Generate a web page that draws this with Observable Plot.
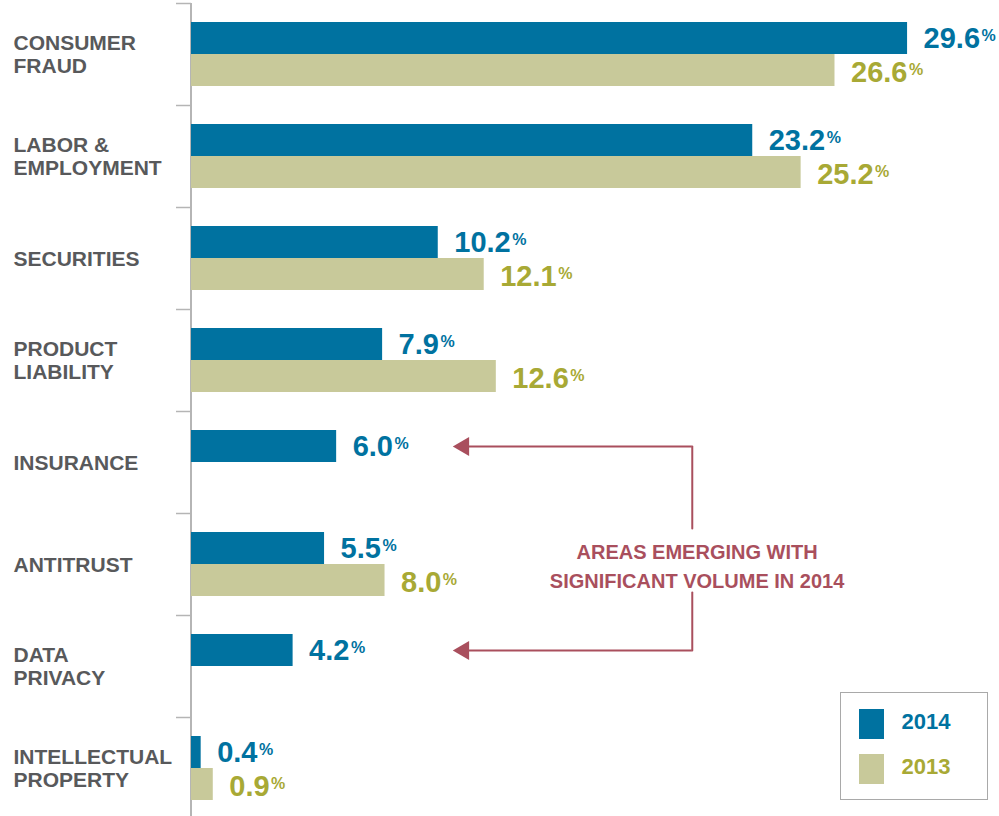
<!DOCTYPE html>
<html>
<head>
<meta charset="utf-8">
<script src="https://cdn.jsdelivr.net/npm/d3@7"></script>
<script src="https://cdn.jsdelivr.net/npm/@observablehq/plot@0.6"></script>
<style>
  html, body { margin: 0; padding: 0; background: #fff; overflow: hidden; }
  #wrap { position: relative; width: 999px; height: 816px; font-family: "Liberation Sans", Arial, Helvetica, sans-serif; }
  #legend { position: absolute; left: 840px; top: 692px; width: 148px; height: 108px; box-sizing: border-box;
            border: 1.5px solid #a9a9a9; background: #fff; }
  .sw { position: absolute; left: 17.5px; width: 25px; height: 30px; }
  .lt { position: absolute; left: 60.5px; height: 30px; line-height: 30px; font-size: 22px; font-weight: bold; }
</style>
</head>
<body>
<div id="wrap">
  <div id="chart"></div>
  <div id="legend"></div>
</div>
<script>
// ---- data ----
const categories = ["CONSUMER\nFRAUD", "LABOR &\nEMPLOYMENT", "SECURITIES", "PRODUCT\nLIABILITY",
                    "INSURANCE", "ANTITRUST", "DATA\nPRIVACY", "INTELLECTUAL\nPROPERTY"];
const values2014 = [29.6, 23.2, 10.2, 7.9, 6.0, 5.5, 4.2, 0.4];
const values2013 = [26.6, 25.2, 12.1, 12.6, null, 8.0, null, 0.9];
const years = ["2014", "2013"];
const annotText = "AREAS EMERGING WITH\nSIGNIFICANT VOLUME IN 2014";
const annotTargets = ["INSURANCE", "DATA\nPRIVACY"];
const annotAnchor = "ANTITRUST";

// ---- styling / layout ----
const C14 = "#0072a0", C13 = "#c8c99a", T13 = "#a8a935";
const LABEL = "#58595b", ANNOT = "#a94f5d", AXIS = "#b5b5b5";
const FONT = '"Liberation Sans", Arial, Helvetica, sans-serif';
const W = 999, H = 816, ML = 191, MR = 0;
const Y0 = 3, Y1 = 819;             // band range (last band runs just past the bottom edge)
const XMAX = 33.4;
const PX = (W - ML - MR) / XMAX;
const BW = (Y1 - Y0) / categories.length;
const BAR = 32;
const PAD = (BW - 2 * BAR) / 2;
const annotX = 20.9, elbowX = 20.7, tipX = 10.8;

const rows14 = categories.map((c, i) => ({category: c, value: values2014[i]}));
const rows13 = categories.map((c, i) => ({category: c, value: values2013[i]})).filter(d => d.value != null);

const plot = Plot.plot({
  width: W, height: H,
  marginLeft: ML, marginRight: MR, marginTop: 0, marginBottom: 0,
  style: {fontFamily: FONT, background: "white", overflow: "visible"},
  x: {domain: [0, XMAX], axis: null},
  y: {domain: categories, range: [Y0, Y1], padding: 0, axis: null},
  marks: [
    // axis line and group separators
    Plot.ruleX([0], {stroke: AXIS, strokeWidth: 2, dx: -0.5, insetTop: Y0}),
    Plot.ruleY(categories, {y: d => d, dy: -BW / 2, x1: -15 / PX, x2: 0, stroke: AXIS, strokeWidth: 1.5}),
    // bars
    Plot.barX(rows14, {x: "value", y: "category", fill: C14, insetTop: PAD, insetBottom: PAD + BAR}),
    Plot.barX(rows13, {x: "value", y: "category", fill: C13, insetTop: PAD + BAR, insetBottom: PAD}),
    // value labels
    Plot.text(rows14, {x: "value", y: "category", text: d => d.value.toFixed(1), dx: 16, dy: -BAR / 2,
      textAnchor: "start", fontSize: 29, fontWeight: "bold", fill: C14}),
    Plot.text(rows13, {x: "value", y: "category", text: d => d.value.toFixed(1), dx: 16, dy: BAR / 2 + 2,
      textAnchor: "start", fontSize: 29, fontWeight: "bold", fill: T13}),
    // category labels
    Plot.text(categories, {y: d => d, text: d => d, frameAnchor: "left", textAnchor: "start", dx: 13 - ML,
      fontSize: 21, fontWeight: "bold", fill: LABEL, lineHeight: 1.1}),
    // annotation
    Plot.text([annotText], {x: annotX, y: () => annotAnchor, text: d => d, fontSize: 20, fontWeight: "bold",
      fill: ANNOT, lineHeight: 1.45, textAnchor: "middle"}),
    Plot.arrow([0], {x1: elbowX, x2: elbowX, y1: () => annotTargets[0], y2: () => annotAnchor, dy: -BAR / 2,
      bend: 0, headLength: 0, insetEnd: 20, stroke: ANNOT, strokeWidth: 2}),
    Plot.arrow([0], {x1: elbowX, x2: elbowX, y1: () => annotTargets[1], y2: () => annotAnchor, dy: -BAR / 2,
      bend: 0, headLength: 0, insetEnd: 44, stroke: ANNOT, strokeWidth: 2}),
    Plot.ruleY(annotTargets, {y: d => d, x1: elbowX, x2: tipX + 0.4, dy: -BAR / 2, stroke: ANNOT, strokeWidth: 2}),
    Plot.dot(annotTargets, {y: d => d, x: tipX, dx: 10.9, dy: -BAR / 2, symbol: "triangle", rotate: -90, r: 7,
      fill: ANNOT, stroke: "none"})
  ]
});

// small "%" after each value label
d3.select(plot).selectAll("text")
  .filter(function() { return /^\d+\.\d$/.test(this.textContent); })
  .each(function() {
    d3.select(this).append("tspan").attr("font-size", 16).attr("dx", 1.5).attr("dy", -6.5).text("%");
  });

document.getElementById("chart").appendChild(plot);

// legend
const legend = document.getElementById("legend");
const legendColors = [[C14, C14], [C13, T13]];
years.forEach((y, i) => {
  const top = 15.5 + i * 45;
  const sw = document.createElement("div");
  sw.className = "sw"; sw.style.top = top + "px"; sw.style.background = legendColors[i][0];
  const lt = document.createElement("div");
  lt.className = "lt"; lt.style.top = (top - 2) + "px"; lt.style.color = legendColors[i][1];
  lt.textContent = y;
  legend.appendChild(sw); legend.appendChild(lt);
});
</script>
</body>
</html>
